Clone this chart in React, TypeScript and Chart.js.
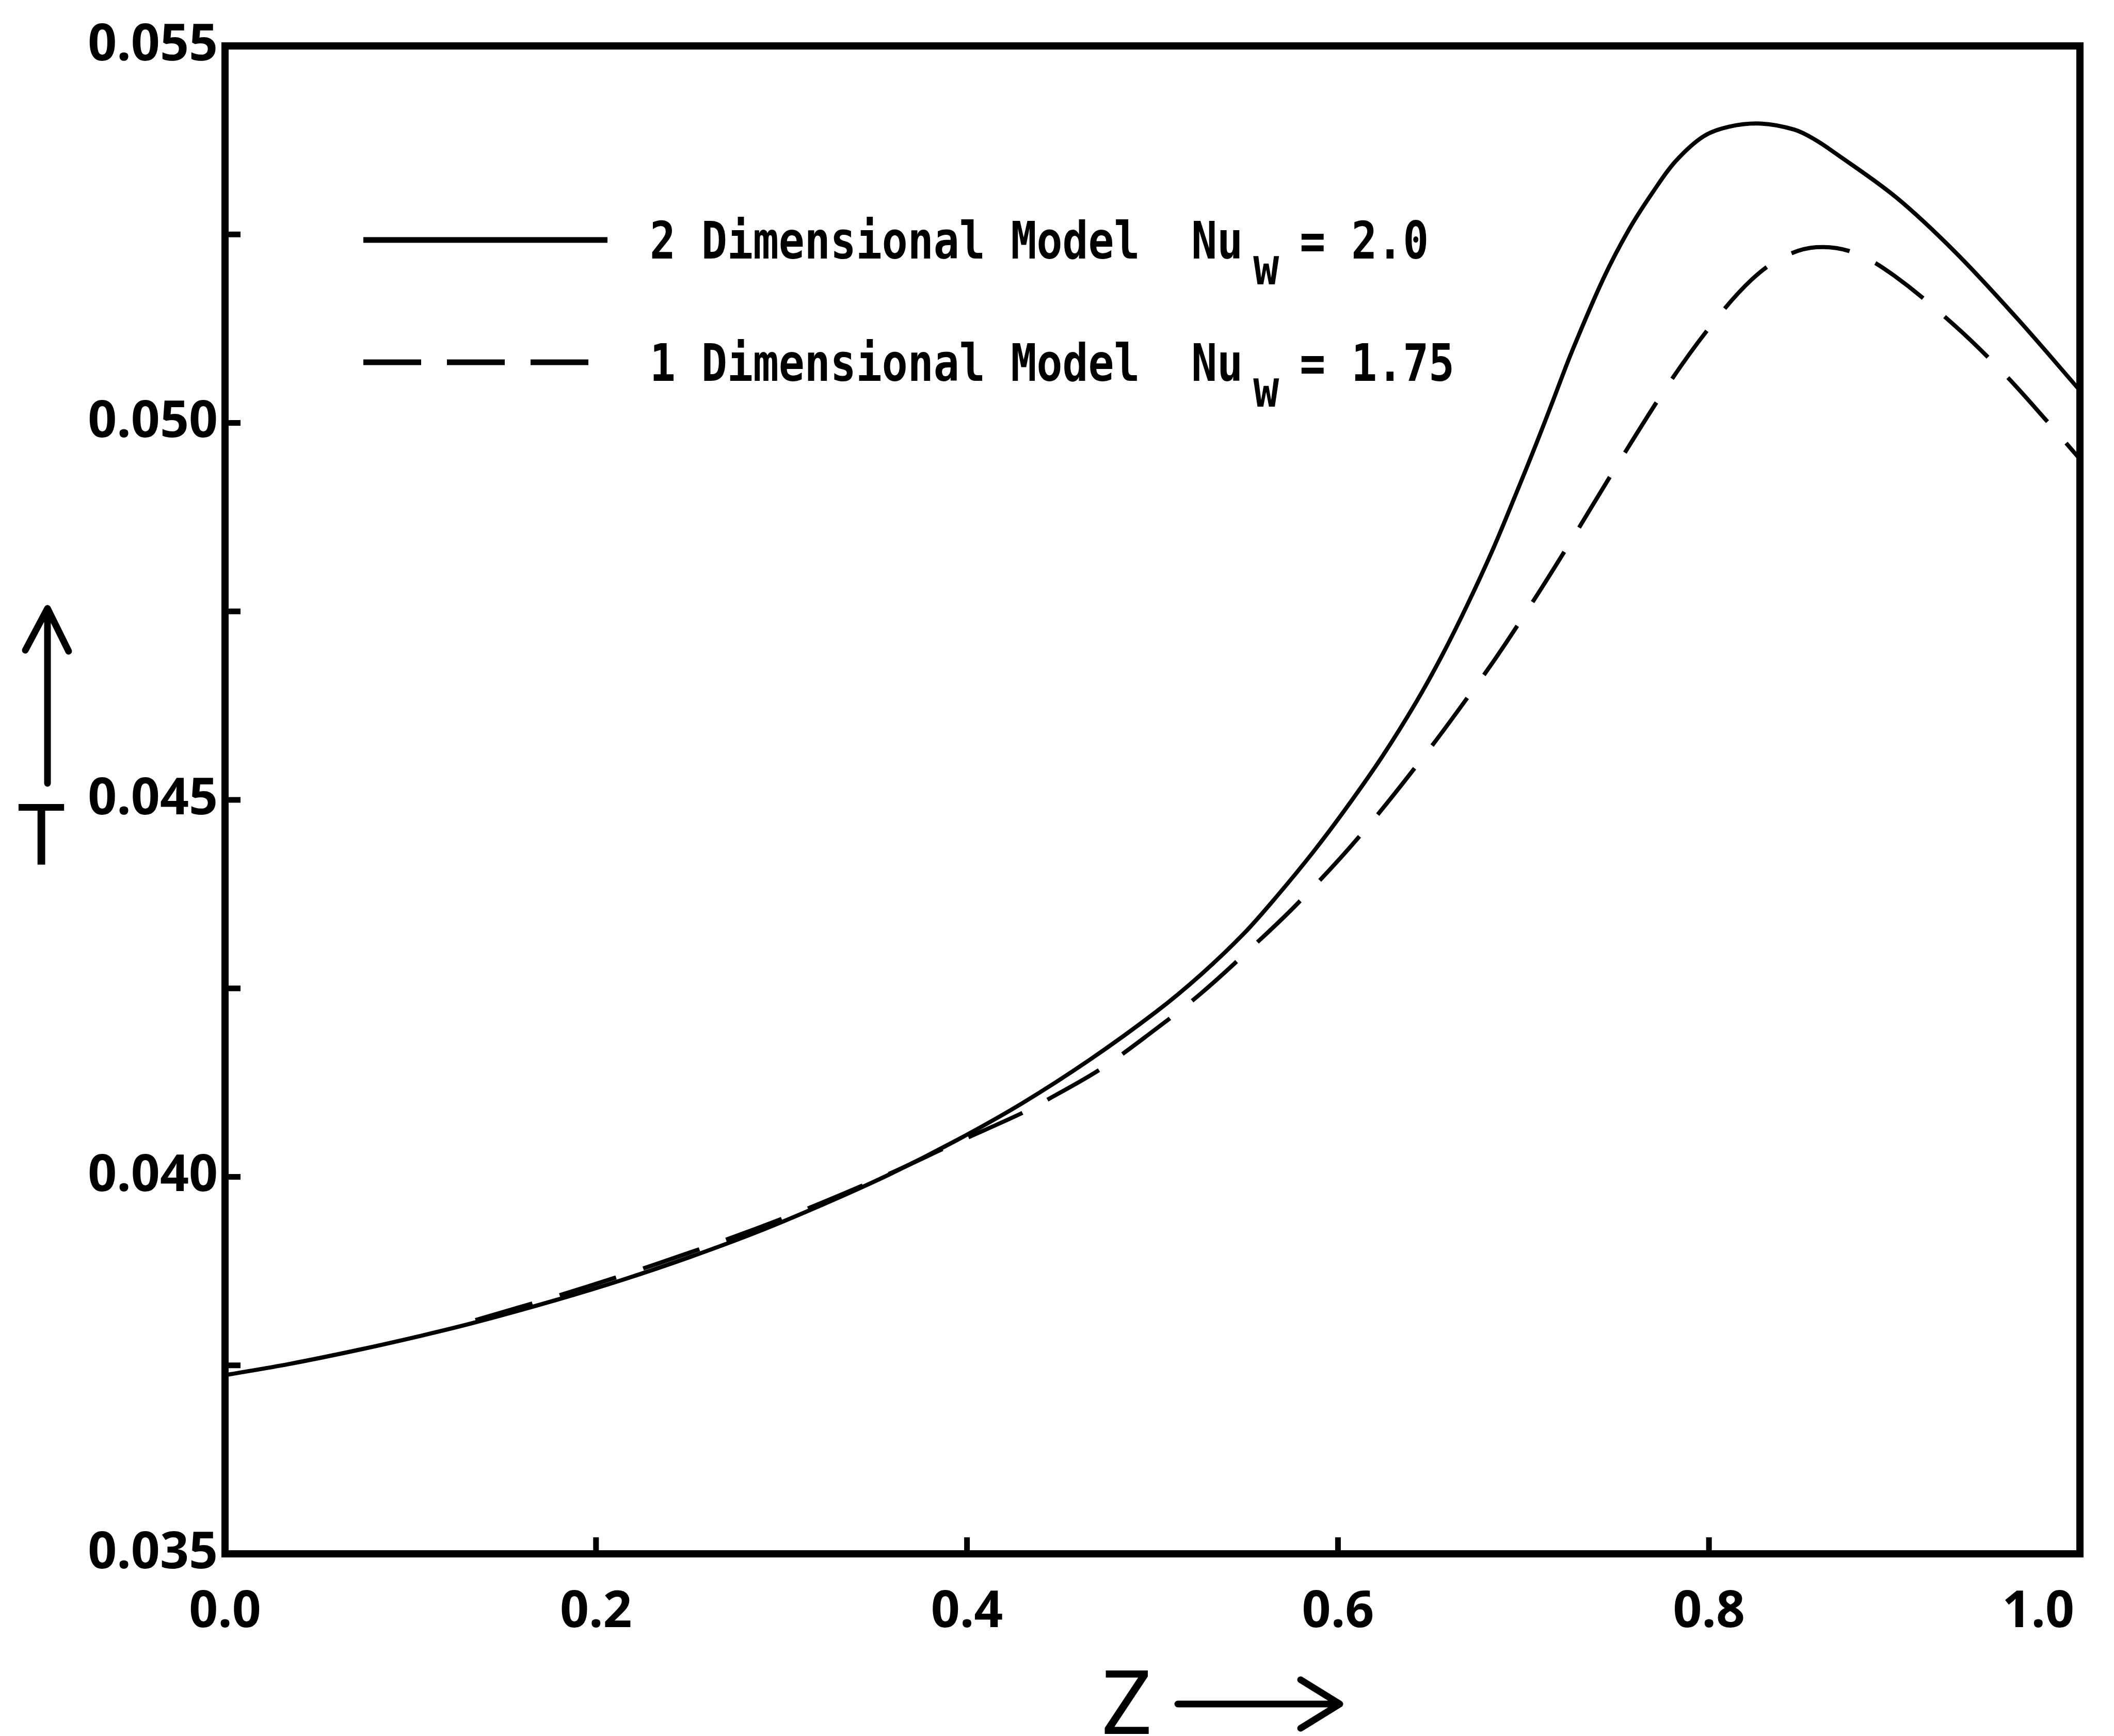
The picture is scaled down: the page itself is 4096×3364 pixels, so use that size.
import React, { useEffect, useRef } from 'react';
import { Chart, registerables } from 'chart.js';

Chart.register(...registerables);

// ---- data ----
const zTwoDim = [0, 0.035, 0.071, 0.107, 0.135, 0.179, 0.215, 0.251, 0.286, 0.322, 0.358, 0.394, 0.430, 0.466, 0.502, 0.526, 0.549, 0.567, 0.587, 0.605, 0.624, 0.642, 0.656, 0.670, 0.684, 0.696, 0.707, 0.716, 0.726, 0.743, 0.757, 0.770, 0.782, 0.797, 0.811, 0.828, 0.846, 0.857, 0.868, 0.901, 0.933, 0.966, 1.000];
const tTwoDim = [0.03737, 0.03752, 0.03770, 0.03790, 0.03807, 0.03837, 0.03864, 0.03894, 0.03926, 0.03963, 0.04003, 0.04048, 0.04098, 0.04155, 0.04219, 0.04268, 0.04322, 0.04372, 0.04432, 0.04491, 0.04558, 0.04629, 0.04691, 0.04760, 0.04835, 0.04906, 0.04973, 0.05030, 0.05094, 0.05191, 0.05257, 0.05307, 0.05347, 0.05380, 0.05393, 0.05397, 0.05389, 0.05376, 0.05358, 0.05299, 0.05226, 0.05139, 0.05043];

const zOneDim = [0.135, 0.179, 0.215, 0.251, 0.286, 0.322, 0.358, 0.394, 0.430, 0.446, 0.472, 0.498, 0.526, 0.556, 0.578, 0.611, 0.647, 0.677, 0.690, 0.709, 0.723, 0.751, 0.780, 0.803, 0.823, 0.840, 0.858, 0.878, 0.900, 0.933, 0.960, 0.982, 1.000];
const tOneDim = [0.03810, 0.03842, 0.03870, 0.03900, 0.03931, 0.03966, 0.04004, 0.04045, 0.04085, 0.04106, 0.04143, 0.04189, 0.04243, 0.04310, 0.04362, 0.04450, 0.04560, 0.04660, 0.04706, 0.04778, 0.04833, 0.04946, 0.05058, 0.05135, 0.05190, 0.05220, 0.05233, 0.05226, 0.05195, 0.05128, 0.05063, 0.05003, 0.04952];

const xTickValues = [0, 0.2, 0.4, 0.6, 0.8, 1.0];
const xTickLabels = ['0.0', '0.2', '0.4', '0.6', '0.8', '1.0'];
const yTickValues = [0.035, 0.0375, 0.04, 0.0425, 0.045, 0.0475, 0.05, 0.0525, 0.055];
const yTickLabels = ['0.035', '', '0.040', '', '0.045', '', '0.050', '', '0.055'];

const legendTexts = ['2 Dimensional Model  Nu', '1 Dimensional Model  Nu'];
const legendSubscript = 'w';
const legendValues = ['= 2.0', '= 1.75'];
const xTitle = 'Z';
const yTitle = 'T';

const W = 4096;
const H = 3364;
const AREA_LEFT = 436;

const decorPlugin = {
  id: 'decor',
  afterDraw(chart: any) {
    const { ctx, chartArea: a, scales } = chart;
    const xs = scales.x;
    const ys = scales.y;
    ctx.save();
    ctx.strokeStyle = '#000';
    ctx.fillStyle = '#000';

    // frame
    ctx.lineWidth = 14;
    ctx.lineJoin = 'miter';
    ctx.strokeRect(a.left, a.top, a.right - a.left, a.bottom - a.top);

    // inward tick marks
    ctx.lineWidth = 11;
    ctx.lineCap = 'butt';
    yTickValues.forEach((v) => {
      if (v <= ys.min || v >= ys.max) return;
      const y = ys.getPixelForValue(v);
      ctx.beginPath();
      ctx.moveTo(a.left, y);
      ctx.lineTo(a.left + 30, y);
      ctx.stroke();
    });
    xTickValues.forEach((v) => {
      if (v <= xs.min || v >= xs.max) return;
      const x = xs.getPixelForValue(v);
      ctx.beginPath();
      ctx.moveTo(x, a.bottom);
      ctx.lineTo(x, a.bottom - 32);
      ctx.stroke();
    });

    // x tick labels
    ctx.font = 'bold 98px "Noto Sans"';
    ctx.textAlign = 'center';
    ctx.textBaseline = 'alphabetic';
    xTickValues.forEach((v, i) => {
      const label = xTickLabels[i];
      const w = ctx.measureText(label).width;
      let x = xs.getPixelForValue(v);
      x = Math.min(x, a.right - 11 - w / 2);
      ctx.fillText(label, x, a.bottom + 142);
    });

    // legend
    const lx0 = a.left + 268;
    const rows = [a.top + 376, a.top + 613];
    ctx.lineWidth = 11;
    ctx.lineCap = 'butt';
    ctx.setLineDash([]);
    ctx.beginPath();
    ctx.moveTo(lx0, rows[0]);
    ctx.lineTo(lx0 + 473, rows[0]);
    ctx.stroke();
    ctx.setLineDash([112, 50]);
    ctx.beginPath();
    ctx.moveTo(lx0, rows[1]);
    ctx.lineTo(lx0 + 452, rows[1]);
    ctx.stroke();
    ctx.setLineDash([]);

    ctx.font = 'bold 83px "DejaVu Sans Mono"';
    ctx.textAlign = 'left';
    const cw = ctx.measureText('M').width;
    const tx0 = a.left + 823;
    const drawStretched = (text: string, x: number, y: number) => {
      ctx.save();
      ctx.translate(x, y);
      ctx.scale(1, 1.2);
      ctx.fillText(text, 0, 0);
      ctx.restore();
    };
    rows.forEach((ry, i) => {
      const base = ry + 36;
      drawStretched(legendTexts[i], tx0, base);
      drawStretched(legendSubscript, tx0 + 23.4 * cw, base + 50);
      drawStretched(legendValues[i], tx0 + 25.2 * cw, base);
    });

    // x axis title Z ->
    ctx.font = '172px "Noto Sans"';
    ctx.textAlign = 'left';
    ctx.fillText(xTitle, a.left + 1698, a.bottom + 349);
    ctx.lineWidth = 13;
    ctx.lineCap = 'round';
    ctx.lineJoin = 'round';
    const ay = a.bottom + 291;
    const ax0 = a.left + 1846;
    const ax1 = a.left + 2160;
    ctx.beginPath();
    ctx.moveTo(ax0, ay);
    ctx.lineTo(ax1, ay);
    ctx.moveTo(ax1 - 76, ay - 47);
    ctx.lineTo(ax1, ay);
    ctx.lineTo(ax1 - 76, ay + 47);
    ctx.stroke();

    // y axis title arrow and T
    const yx = a.left - 344;
    const tipY = a.top + 1090;
    ctx.beginPath();
    ctx.moveTo(yx, a.top + 1429);
    ctx.lineTo(yx, tipY);
    ctx.moveTo(yx - 43, tipY + 81);
    ctx.lineTo(yx, tipY);
    ctx.lineTo(yx + 41, tipY + 83);
    ctx.stroke();
    ctx.font = '165px "Noto Sans"';
    ctx.textAlign = 'center';
    ctx.fillText(yTitle, a.left - 356, a.top + 1587);

    ctx.restore();
  },
};

export default function App() {
  const canvasRef = useRef<HTMLCanvasElement | null>(null);

  useEffect(() => {
    document.body.style.margin = '0';
    document.body.style.overflow = 'hidden';
    const canvas = canvasRef.current;
    if (!canvas) return;

    const chart = new Chart(canvas, {
      type: 'scatter',
      data: {
        datasets: [
          {
            label: '2 Dimensional Model Nuw = 2.0',
            data: zTwoDim.map((z, i) => ({ x: z, y: tTwoDim[i] })),
            showLine: true,
            borderColor: '#000',
            backgroundColor: '#000',
            borderWidth: 8,
            pointRadius: 0,
            tension: 0.35,
            fill: false,
          },
          {
            label: '1 Dimensional Model Nuw = 1.75',
            data: zOneDim.map((z, i) => ({ x: z, y: tOneDim[i] })),
            showLine: true,
            borderColor: '#000',
            backgroundColor: '#000',
            borderWidth: 8,
            borderDash: [115, 55],
            pointRadius: 0,
            tension: 0.35,
            fill: false,
          },
        ],
      },
      options: {
        responsive: false,
        animation: false,
        devicePixelRatio: 1,
        events: [],
        layout: { padding: { left: 0, right: 66, top: 89, bottom: 353 } },
        plugins: {
          legend: { display: false },
          tooltip: { enabled: false },
          title: { display: false },
        },
        scales: {
          x: {
            type: 'linear',
            min: 0,
            max: 1.0,
            grid: { display: false, drawTicks: false },
            border: { display: false },
            ticks: { display: false },
            afterBuildTicks: (scale: any) => {
              scale.ticks = xTickValues.map((v) => ({ value: v }));
            },
            afterFit: (scale: any) => {
              scale.height = 0;
              scale.paddingLeft = 0;
              scale.paddingRight = 0;
            },
          },
          y: {
            type: 'linear',
            min: 0.035,
            max: 0.055,
            grid: { display: false, drawTicks: false },
            border: { display: false },
            afterBuildTicks: (scale: any) => {
              scale.ticks = yTickValues.map((v) => ({ value: v }));
            },
            afterFit: (scale: any) => {
              scale.width = AREA_LEFT;
            },
            ticks: {
              padding: 14,
              color: '#000',
              font: { family: 'Noto Sans', weight: 'bold', size: 98 },
              callback: (value: any) => {
                const idx = yTickValues.findIndex((v) => Math.abs(v - Number(value)) < 1e-7);
                return idx >= 0 ? yTickLabels[idx] : '';
              },
            },
          },
        },
      } as any,
      plugins: [decorPlugin],
    });

    return () => {
      chart.destroy();
    };
  }, []);

  return (
    <div style={{ width: W, height: H, background: '#fff' }}>
      <canvas ref={canvasRef} width={W} height={H} style={{ display: 'block', width: W, height: H }} />
    </div>
  );
}
